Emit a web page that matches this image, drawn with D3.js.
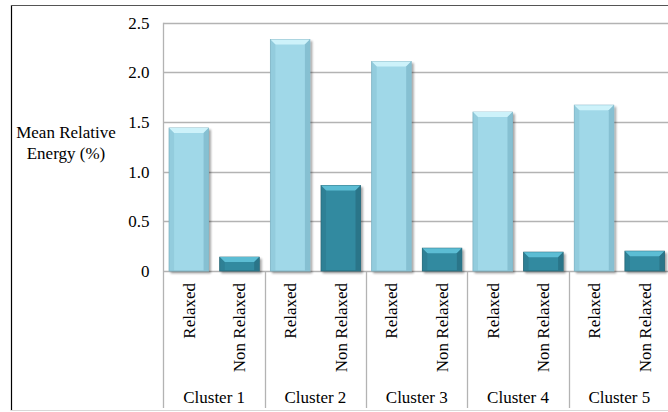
<!DOCTYPE html>
<meta charset="utf-8">
<script src="https://d3js.org/d3.v7.min.js"></script>
<style>
  body { margin: 0; background: #fff; }
</style>
<div id="my_dataviz"></div>
<script>

// data
var clusters = ["Cluster 1", "Cluster 2", "Cluster 3", "Cluster 4", "Cluster 5"];
var categories = ["Relaxed", "Non Relaxed"];
var relaxed = [1.44, 2.33, 2.11, 1.60, 1.67];
var nonRelaxed = [0.14, 0.86, 0.23, 0.19, 0.20];
var yTicks = [0, 0.5, 1.0, 1.5, 2.0, 2.5];
var yTickLabels = ["0", "0.5", "1.0", "1.5", "2.0", "2.5"];

var width = 668, height = 412;
var plot = {left: 163.5, right: 670, top: 22.7, bottom: 271};
var serif = "Times New Roman";
var fontSize = 17;

var colors = {
  "Relaxed":     {fill: "#a0d8e8", top: "#cdf2fa", side: "#86c0d2", edge: "#7aaebe"},
  "Non Relaxed": {fill: "#338aa0", top: "#5bbdd4", side: "#2a7589", edge: "#22606f"}
};

var svg = d3.select("#my_dataviz")
  .append("svg")
    .attr("width", width)
    .attr("height", height)
    .attr("font-family", serif)
    .attr("font-size", fontSize);

var defs = svg.append("defs");
var shadow = defs.append("filter").attr("id", "shadow")
  .attr("x", "-20%").attr("y", "-20%").attr("width", "150%").attr("height", "150%");
shadow.append("feGaussianBlur").attr("in", "SourceAlpha").attr("stdDeviation", 1.2);
shadow.append("feOffset").attr("dx", 1.5).attr("dy", 1.5).attr("result", "off");
shadow.append("feComponentTransfer").append("feFuncA").attr("type", "linear").attr("slope", 0.35);
var merge = shadow.append("feMerge");
merge.append("feMergeNode");
merge.append("feMergeNode").attr("in", "SourceGraphic");

// outer frame
svg.append("line").attr("x1", 11.5).attr("x2", 11.5).attr("y1", 5).attr("y2", 411)
  .attr("stroke", "#000").attr("stroke-width", 1.2);
svg.append("line").attr("x1", 11).attr("x2", width).attr("y1", 5.5).attr("y2", 5.5)
  .attr("stroke", "#555").attr("stroke-width", 1.2);
svg.append("line").attr("x1", 11).attr("x2", width).attr("y1", 410.5).attr("y2", 410.5)
  .attr("stroke", "#d8d8d8").attr("stroke-width", 1.2);

// scales
var x0 = d3.scaleBand()
  .domain(clusters)
  .range([plot.left, plot.right])
  .padding(0);

var x1 = d3.scaleBand()
  .domain(categories)
  .range([0, x0.bandwidth()])
  .paddingInner(0.22)
  .paddingOuter(0.11);

var y = d3.scaleLinear()
  .domain([0, 2.5])
  .range([plot.bottom, plot.top]);

// gridlines
svg.append("g")
  .selectAll("line")
  .data(yTicks.filter(function(d) { return d > 0; }))
  .enter()
  .append("line")
    .attr("x1", plot.left)
    .attr("x2", width)
    .attr("y1", function(d) { return Math.round(y(d)) + 0.5; })
    .attr("y2", function(d) { return Math.round(y(d)) + 0.5; })
    .attr("stroke", "#b3b3b3")
    .attr("stroke-width", 1.3);

// y axis labels
var yAxis = svg.append("g")
  .attr("transform", "translate(" + plot.left + ",0)")
  .call(d3.axisLeft(y).tickValues(yTicks)
    .tickFormat(function(d, i) { return yTickLabels[i]; })
    .tickSize(0).tickPadding(14));
yAxis.attr("font-family", serif).attr("font-size", fontSize);
yAxis.select(".domain").remove();
yAxis.selectAll("text").attr("fill", "#000");

// left axis line
svg.append("line")
  .attr("x1", plot.left).attr("x2", plot.left)
  .attr("y1", plot.top).attr("y2", 408)
  .attr("stroke", "#b3b3b3").attr("stroke-width", 1.3);

// x axis line
svg.append("line")
  .attr("x1", plot.left).attr("x2", width)
  .attr("y1", plot.bottom + 0.5).attr("y2", plot.bottom + 0.5)
  .attr("stroke", "#b3b3b3").attr("stroke-width", 1.3);

// cluster separators
svg.append("g")
  .selectAll("line")
  .data(clusters)
  .enter()
  .append("line")
    .attr("x1", function(d) { return Math.round(x0(d) + x0.bandwidth()) + 0.5; })
    .attr("x2", function(d) { return Math.round(x0(d) + x0.bandwidth()) + 0.5; })
    .attr("y1", plot.bottom)
    .attr("y2", 408)
    .attr("stroke", "#b3b3b3")
    .attr("stroke-width", 1.3);

// y title
var title = svg.append("text")
  .attr("text-anchor", "middle");
title.append("tspan").attr("x", 66).attr("y", 138).text("Mean Relative");
title.append("tspan").attr("x", 66).attr("y", 159).text("Energy (%)");

// bars
var rows = [];
clusters.forEach(function(c, i) {
  rows.push({cluster: c, cat: "Relaxed", value: relaxed[i]});
  rows.push({cluster: c, cat: "Non Relaxed", value: nonRelaxed[i]});
});

var bars = svg.append("g")
  .selectAll("g")
  .data(rows)
  .enter()
  .append("g")
    .attr("filter", "url(#shadow)");

function bx(d) { return x0(d.cluster) + x1(d.cat); }

bars.append("rect")
  .attr("x", bx)
  .attr("y", function(d) { return y(d.value); })
  .attr("width", x1.bandwidth())
  .attr("height", function(d) { return y(0) - y(d.value); })
  .attr("fill", function(d) { return colors[d.cat].fill; })
  .attr("stroke", function(d) { return colors[d.cat].edge; })
  .attr("stroke-width", 0.8);

var bev = 5;
// top bevel
bars.append("polygon")
  .attr("points", function(d) {
    var x = bx(d), w = x1.bandwidth(), t = y(d.value);
    return [[x, t], [x + w, t], [x + w - bev, t + bev], [x + bev, t + bev]].join(" ");
  })
  .attr("fill", function(d) { return colors[d.cat].top; });
// left bevel
bars.append("polygon")
  .attr("points", function(d) {
    var x = bx(d), t = y(d.value), b = y(0);
    return [[x, t], [x + bev, t + bev], [x + bev, b], [x, b]].join(" ");
  })
  .attr("fill", function(d) { return colors[d.cat].side; })
  .attr("opacity", 0.5);
// right bevel
bars.append("polygon")
  .attr("points", function(d) {
    var x = bx(d) + x1.bandwidth(), t = y(d.value), b = y(0);
    return [[x, t], [x - bev, t + bev], [x - bev, b], [x, b]].join(" ");
  })
  .attr("fill", function(d) { return colors[d.cat].side; });

// category labels (rotated)
svg.append("g")
  .selectAll("text")
  .data(rows)
  .enter()
  .append("text")
    .attr("transform", function(d) {
      return "translate(" + (bx(d) + x1.bandwidth() / 2 + 6) + ",283)rotate(-90)";
    })
    .attr("text-anchor", "end")
    .text(function(d) { return d.cat; });

// cluster labels
svg.append("g")
  .selectAll("text")
  .data(clusters)
  .enter()
  .append("text")
    .attr("x", function(d) { return x0(d) + x0.bandwidth() / 2; })
    .attr("y", 403)
    .attr("text-anchor", "middle")
    .text(function(d) { return d; });

// font set on each text element too
svg.selectAll("text")
  .attr("font-family", serif)
  .attr("font-size", fontSize);

</script>
